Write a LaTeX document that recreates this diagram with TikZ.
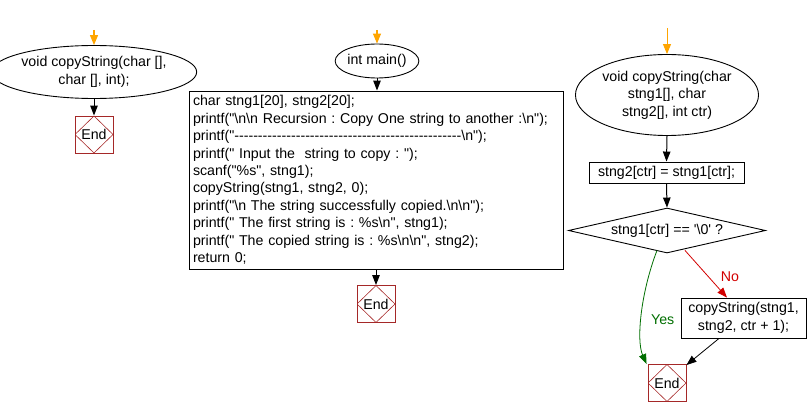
\documentclass[tikz,border=0pt]{standalone}
\usepackage{fontspec}
\setmainfont{Liberation Sans}[Ligatures=TeXOff]
\usetikzlibrary{arrows.meta,shapes.geometric,calc}
\definecolor{endred}{RGB}{165,40,40}
\definecolor{startor}{RGB}{255,165,0}
\definecolor{yesgreen}{RGB}{0,110,0}
\definecolor{nored}{RGB}{210,0,0}
\newcommand\bs{\textbackslash}
\frenchspacing
\begin{document}
\begin{tikzpicture}[x=1pt,y=-1pt,
  font=\fontsize{14.2}{17.4}\selectfont, line width=0.9pt,
  ell/.style={draw, ellipse, inner sep=0pt, align=center},
  box/.style={draw, rectangle, inner sep=0pt, align=center},
  endbox/.style={draw=endred, rectangle, minimum width=38pt, minimum height=37pt, inner sep=0pt,
    path picture={\draw[endred,line width=0.6pt] (path picture bounding box.north) -- (path picture bounding box.east) -- (path picture bounding box.south) -- (path picture bounding box.west) -- cycle;}},
  arr/.style={-{Triangle[length=10pt,width=7.5pt]}, line width=1pt},
  startarr/.style={-{Triangle[length=10pt,width=8pt]}, line width=1.2pt, draw=startor}
]
\useasboundingbox (0,0) rectangle (809,417);

% left flow
\coordinate (s1) at (94,30);
\node[ell, minimum width=177pt, minimum height=53pt] (e1) at (94,72) {void copyString(char [],\\char [], int);};
\node[endbox] (end1) at (94,134.5) {End};
\draw[startarr] (s1) -- (e1.north);
\draw[arr] (e1.south) -- (end1.north);

% middle flow
\coordinate (s2) at (377,30);
\node[ell, minimum width=81pt, minimum height=34pt] (e2) at (377,61) {int main()};
\node[draw, rectangle, text width=366pt, inner xsep=4pt, inner ysep=2pt, align=left, minimum height=178pt] (mb) at (376,180) {char stng1[20], stng2[20];\\
printf("\bs n\bs n Recursion : Copy One string to another :\bs n");\\
printf("------------------------------------------------\bs n");\\
printf(" Input the\ \ string to copy : ");\\
scanf("\%s", stng1);\\
copyString(stng1, stng2, 0);\\
printf("\bs n The string successfully copied.\bs n\bs n");\\
printf(" The first string is : \%s\bs n", stng1);\\
printf(" The copied string is : \%s\bs n\bs n", stng2);\\
return 0;};
\node[endbox] (end2) at (376,304) {End};
\draw[startarr] (s2) -- (e2.north);
\draw[arr] (e2.south) -- (mb.north -| e2.south);
\draw[arr] (mb.south -| end2.north) -- (end2.north);

% right flow
\coordinate (s3) at (667,28);
\node[ell, minimum width=169pt, minimum height=81pt] (e3) at (667,95) {void copyString(char\\stng1[], char\\stng2[], int ctr)};
\node[box, minimum width=155pt, minimum height=21pt] (b3) at (666.5,172.5) {stng2[ctr] = stng1[ctr];};
\node[draw, diamond, inner sep=0pt, minimum width=197pt, minimum height=45pt, aspect=4.4] (dec) at (667,230.5) {stng1[ctr] == '\bs 0' ?};
\node[box, minimum width=125pt, minimum height=40pt] (cs) at (743.5,318) {copyString(stng1,\\stng2, ctr + 1);};
\node[endbox] (end3) at (667,383) {End};
\draw[startarr, line width=0.9pt] (s3) -- (e3.north);
\draw[arr] (e3.south) -- (b3.north);
\draw[arr] (b3.south) -- (dec.north);
\draw[arr, draw=yesgreen, line width=0.8pt] ([xshift=-10pt,yshift=3pt]dec.south) .. controls (641,292) and (636,340) .. ([xshift=-1pt]end3.north west)
  node[pos=0.55, right=6pt, text=yesgreen] {Yes};
\draw[arr, draw=nored, line width=0.8pt] ([xshift=18pt,yshift=3pt]dec.south) -- ([xshift=-16.5pt]cs.north)
  node[pos=0.55, right=9pt, text=nored] {No};
\draw[arr, line width=0.8pt] ([xshift=-24.5pt]cs.south) -- ([yshift=-1pt]end3.north east);
\end{tikzpicture}
\end{document}
